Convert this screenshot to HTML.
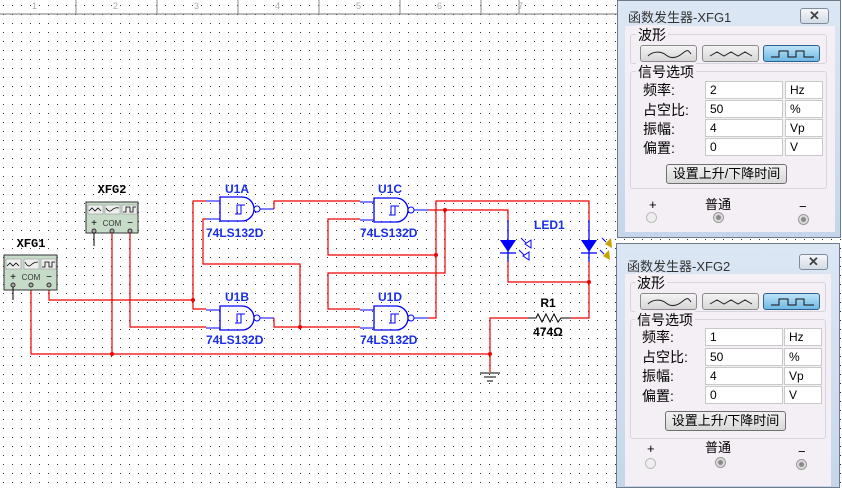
<!DOCTYPE html>
<html><head><meta charset="utf-8"><style>
html,body{margin:0;padding:0;}
body{width:842px;height:488px;position:relative;overflow:hidden;background:#fff;font-family:"Liberation Sans","Noto Sans CJK SC",sans-serif;}
#grid{position:absolute;left:0;top:0;width:842px;height:488px;background-image:radial-gradient(circle,#333 0.6px,transparent 0.7px);background-size:9px 9px;background-position:-1px 1px;}
svg.main{position:absolute;left:0;top:0;}
.dlg{position:absolute;background:linear-gradient(#dce7f4,#c6d6ea);border:1px solid #6d7b8d;box-sizing:border-box;}
.title{position:absolute;left:10px;top:6px;font-size:13px;color:#333;}
.close{position:absolute;width:29px;height:16px;border:1px solid #7e8b9c;border-radius:3px;background:linear-gradient(#f5f7fa,#d4dbe4);box-sizing:border-box;font-size:13px;font-weight:bold;text-align:center;line-height:14px;color:#444;}
.client{position:absolute;background:#f4eff4;}
.grp{position:absolute;border:1px solid #d8d4de;border-radius:3px;box-sizing:border-box;}
.glab{position:absolute;font-size:14px;background:#f4eff4;padding:0 2px;color:#000;}
.wbtn{position:absolute;height:17px;width:57px;border:1px solid #8a8a8a;border-radius:3px;box-sizing:border-box;background:linear-gradient(#f4f4f4,#d6d6d6);}
.wbtn svg{position:absolute;left:6px;top:3px;}
.wbtn.on{background:linear-gradient(#bde3f8,#6fb8e4);border-color:#2c628b;}
.lab{position:absolute;font-size:14px;color:#000;}
.inp{position:absolute;height:18px;background:#fff;border:1px solid #c9c9c9;box-sizing:border-box;font-size:12px;padding-left:4px;line-height:17px;}
.btn{position:absolute;height:20px;border:1px solid #707070;border-radius:3px;box-sizing:border-box;background:linear-gradient(#f2f2f2,#d8d8d8);font-size:13px;text-align:center;line-height:18px;}
.rad{position:absolute;width:11px;height:11px;border-radius:50%;border:1px solid #999;box-sizing:border-box;background:radial-gradient(circle,#888 2px,#ddd 3px);}
.rad.off{background:#eee;border-color:#bbb;}
.small{position:absolute;font-size:13px;}
</style></head><body>
<div id="grid"></div>
<svg class="main" width="842" height="488" viewBox="0 0 842 488">
<line x1="0" y1="14" x2="620" y2="14" stroke="#777" stroke-width="1"/>
<g stroke="#888" stroke-width="1">
<line x1="76" y1="0" x2="76" y2="14"/><line x1="157" y1="0" x2="157" y2="14"/><line x1="238" y1="0" x2="238" y2="14"/><line x1="319" y1="0" x2="319" y2="14"/><line x1="400" y1="0" x2="400" y2="14"/><line x1="481" y1="0" x2="481" y2="14"/><line x1="519" y1="0" x2="519" y2="14"/>
</g>
<g font-size="9" fill="#aaa" font-family="Liberation Sans">
<text x="32" y="9">1</text><text x="113" y="9">2</text><text x="194" y="9">3</text><text x="275" y="9">4</text><text x="356" y="9">5</text><text x="437" y="9">6</text><text x="518" y="9">7</text>
</g>

<g stroke="#e00" stroke-width="1.2" fill="none">
<polyline points="49,290 49,300 193,300"/>
<polyline points="206,201 193,201 193,309 206,309"/>
<polyline points="31,290 31,354 490,354"/>
<polyline points="112,233 112,354"/>
<polyline points="130,233 130,327 206,327"/>
<polyline points="206,219 203,219 203,264 300,264 300,327"/>
<polyline points="274,209 274,201 360,201"/>
<polyline points="274,318 274,327 360,327"/>
<polyline points="360,219 328,219 328,255 436,255"/>
<polyline points="428,210 508,210 508,220"/>
<polyline points="445,210 445,273 328,273 328,309 360,309"/>
<polyline points="428,318 436,318 436,201 589,201 589,220"/>
<polyline points="508,262 508,282 589,282"/>
<polyline points="589,262 589,318 571,318"/>
<polyline points="528,318 490,318 490,372"/>
</g>
<g fill="#e00">
<circle cx="193" cy="300" r="2"/><circle cx="112" cy="354" r="2"/><circle cx="300" cy="327" r="2"/><circle cx="436" cy="255" r="2"/><circle cx="445" cy="210" r="2"/><circle cx="589" cy="282" r="2"/><circle cx="490" cy="354" r="2"/>
</g>
<g stroke="#000" stroke-width="1"><line x1="480" y1="373" x2="500" y2="373"/><line x1="484" y1="377" x2="496" y2="377"/><line x1="487" y1="381" x2="493" y2="381"/></g>
<polyline points="528,318 536,318 538,314 542,322 546,314 550,322 554,314 558,322 561,318 571,318" stroke="#000" fill="none" stroke-width="1"/>
<text x="548" y="307" font-size="12" font-weight="bold" text-anchor="middle" font-family="Liberation Sans">R1</text>
<text x="548" y="336" font-size="12" font-weight="bold" text-anchor="middle" font-family="Liberation Sans">474Ω</text>

<defs>
<g id="gate">
<line x1="-14" y1="4" x2="0" y2="4" stroke="#00f"/>
<line x1="-14" y1="22" x2="0" y2="22" stroke="#00f"/>
<path d="M0,0 H22 A12 12 0 0 1 22 24 H0 Z" fill="none" stroke="#00f" stroke-width="1.3"/>
<circle cx="37" cy="12" r="3" fill="#fff" stroke="#00f"/>
<line x1="40" y1="12" x2="54" y2="12" stroke="#00f"/>
<polyline points="15,17 21,17 21,8 25,8" fill="none" stroke="#00f"/>
<polyline points="17,17 17,8 21,8" fill="none" stroke="#00f"/>
</g>
<g id="w1"><path d="M1,6 C6,0 10,0 14,4 S22,8 27,2" fill="none" stroke="#333"/></g>
</defs>
<use href="#gate" x="220" y="197"/>
<use href="#gate" x="220" y="306"/>
<use href="#gate" x="374" y="198"/>
<use href="#gate" x="374" y="306"/>
<g fill="#1a2ee8" font-size="12" font-weight="bold" font-family="Liberation Sans">
<text x="225" y="193">U1A</text><text x="206" y="237">74LS132D</text>
<text x="225" y="301">U1B</text><text x="206" y="344">74LS132D</text>
<text x="378" y="193">U1C</text><text x="360" y="237">74LS132D</text>
<text x="378" y="301">U1D</text><text x="360" y="344">74LS132D</text>
<text x="534" y="229">LED1</text>
</g>
<g stroke="#00f" stroke-width="1.3">
<line x1="508" y1="220" x2="508" y2="262"/><line x1="589" y1="220" x2="589" y2="262"/>
<line x1="500" y1="253" x2="516" y2="253"/><line x1="581" y1="253" x2="597" y2="253"/>
</g>
<polygon points="500,240 516,240 508,252" fill="#00f"/>
<polygon points="581,240 597,240 589,252" fill="#00f"/>
<g stroke="#00f" fill="none"><line x1="521" y1="238" x2="527" y2="244"/><polygon points="525,244 531,240 531,248" fill="#fff"/>
<line x1="519" y1="250" x2="525" y2="256"/><polygon points="523,256 529,252 529,260" fill="#fff"/>
<line x1="602" y1="238" x2="606" y2="242"/><line x1="600" y1="250" x2="604" y2="254"/></g>
<polygon points="605,244 611,238 612,248" fill="#c9a000"/>
<polygon points="603,256 609,250 610,260" fill="#c9a000"/>

<!-- XFG2 -->
<rect x="86" y="202" width="52" height="31" fill="#c7dcc8" stroke="#333"/>
<rect x="88" y="205" width="15" height="9" fill="#eee" stroke="#888" stroke-width=".5"/>
<rect x="105" y="205" width="15" height="9" fill="#eee" stroke="#888" stroke-width=".5"/>
<rect x="122" y="205" width="15" height="9" fill="#eee" stroke="#888" stroke-width=".5"/>
<g fill="none" stroke="#000" stroke-width=".8">
<polyline points="89,211 92,208 95,211 98,208 101,211"/>
<path d="M106,208 Q109,213 112,210 T119,208"/>
<polyline points="123,212 126,212 126,207 130,207 130,212 133,212 133,207 136,207"/>
</g>
<text x="112" y="193" font-size="12" font-weight="bold" text-anchor="middle" font-family="Liberation Mono">XFG2</text>
<text x="112" y="226" font-size="8" text-anchor="middle" fill="#333">COM</text>
<text x="94" y="226" font-size="10" text-anchor="middle">+</text><text x="130" y="226" font-size="10" text-anchor="middle">−</text>
<g fill="#aaa" stroke="#333"><circle cx="94" cy="231" r="2"/><circle cx="112" cy="231" r="2"/><circle cx="130" cy="231" r="2"/></g>
<line x1="94" y1="233" x2="94" y2="246" stroke="#000"/>
<!-- XFG1 -->
<rect x="4" y="255" width="53" height="35" fill="#c7dcc8" stroke="#333"/>
<rect x="6" y="259" width="15" height="10" fill="#eee" stroke="#888" stroke-width=".5"/>
<rect x="24" y="259" width="15" height="10" fill="#eee" stroke="#888" stroke-width=".5"/>
<rect x="41" y="259" width="15" height="10" fill="#eee" stroke="#888" stroke-width=".5"/>
<g fill="none" stroke="#000" stroke-width=".8">
<polyline points="7,266 10,263 13,266 16,263 19,266"/>
<path d="M25,262 Q28,268 31,265 T38,262"/>
<polyline points="42,267 45,267 45,262 49,262 49,267 52,267 52,262 55,262"/>
</g>
<text x="31" y="247" font-size="12" font-weight="bold" text-anchor="middle" font-family="Liberation Mono">XFG1</text>
<text x="31" y="280" font-size="8" text-anchor="middle" fill="#333">COM</text>
<text x="13" y="280" font-size="10" text-anchor="middle">+</text><text x="49" y="280" font-size="10" text-anchor="middle">−</text>
<g fill="#aaa" stroke="#333"><circle cx="13" cy="285" r="2"/><circle cx="31" cy="285" r="2"/><circle cx="49" cy="285" r="2"/></g>
<line x1="13" y1="287" x2="13" y2="300" stroke="#000"/>
</svg>

<!-- Dialog 1 -->
<div class="dlg" style="left:617px;top:0;width:224px;height:238px;">
<div class="title">函数发生器-XFG1</div>
<div class="close" style="left:182px;top:7px;">✕</div>
<div class="client" style="left:7px;top:25px;width:210px;height:206px;"></div>
<div class="grp" style="left:12px;top:33px;width:197px;height:30px;"></div>
<div class="glab" style="left:18px;top:24px;">波形</div>
<div class="wbtn" style="left:22px;top:44px;"><svg width="45" height="10"><path d="M1,7 C6,2 14,2 19,6 S30,9 36,4 42,3 44,5" fill="none" stroke="#222"/></svg></div>
<div class="wbtn" style="left:84px;top:44px;"><svg width="45" height="10"><polyline points="1,7 8,3 15,7 22,3 29,7 36,3 43,7" fill="none" stroke="#222"/></svg></div>
<div class="wbtn on" style="left:145px;top:44px;"><svg width="45" height="10"><polyline points="1,8 9,8 9,2 18,2 18,8 26,8 26,2 34,2 34,8 44,8" fill="none" stroke="#111"/></svg></div>
<div class="grp" style="left:12px;top:70px;width:197px;height:118px;"></div>
<div class="glab" style="left:18px;top:61px;">信号选项</div>
<div class="lab" style="left:25px;top:79px;">频率:</div>
<div class="lab" style="left:25px;top:99px;">占空比:</div>
<div class="lab" style="left:25px;top:118px;">振幅:</div>
<div class="lab" style="left:25px;top:137px;">偏置:</div>
<div class="inp" style="left:87px;top:80px;width:78px;">2</div><div class="inp" style="left:167px;top:80px;width:38px;">Hz</div>
<div class="inp" style="left:87px;top:99px;width:78px;">50</div><div class="inp" style="left:167px;top:99px;width:38px;">%</div>
<div class="inp" style="left:87px;top:118px;width:78px;">4</div><div class="inp" style="left:167px;top:118px;width:38px;">Vp</div>
<div class="inp" style="left:87px;top:137px;width:78px;">0</div><div class="inp" style="left:167px;top:137px;width:38px;">V</div>
<div class="btn" style="left:48px;top:163px;width:121px;">设置上升/下降时间</div>
<div class="small" style="left:31px;top:196px;">+</div>
<div class="small" style="left:87px;top:193px;">普通</div>
<div class="small" style="left:181px;top:198px;">−</div>
<div class="rad off" style="left:28px;top:211px;"></div>
<div class="rad" style="left:95px;top:211px;"></div>
<div class="rad" style="left:180px;top:213px;"></div>
</div>

<!-- Dialog 2 -->
<div class="dlg" style="left:616px;top:243px;width:224px;height:245px;">
<div class="title" style="top:12px;">函数发生器-XFG2</div>
<div class="close" style="left:182px;top:10px;">✕</div>
<div class="client" style="left:8px;top:30px;width:206px;height:212px;"></div>
<div class="grp" style="left:13px;top:38px;width:196px;height:30px;"></div>
<div class="glab" style="left:18px;top:29px;">波形</div>
<div class="wbtn" style="left:23px;top:49px;"><svg width="45" height="10"><path d="M1,7 C6,2 14,2 19,6 S30,9 36,4 42,3 44,5" fill="none" stroke="#222"/></svg></div>
<div class="wbtn" style="left:85px;top:49px;"><svg width="45" height="10"><polyline points="1,7 8,3 15,7 22,3 29,7 36,3 43,7" fill="none" stroke="#222"/></svg></div>
<div class="wbtn on" style="left:146px;top:49px;"><svg width="45" height="10"><polyline points="1,8 9,8 9,2 18,2 18,8 26,8 26,2 34,2 34,8 44,8" fill="none" stroke="#111"/></svg></div>
<div class="grp" style="left:13px;top:75px;width:196px;height:120px;"></div>
<div class="glab" style="left:18px;top:66px;">信号选项</div>
<div class="lab" style="left:25px;top:83px;">频率:</div>
<div class="lab" style="left:25px;top:103px;">占空比:</div>
<div class="lab" style="left:25px;top:122px;">振幅:</div>
<div class="lab" style="left:25px;top:142px;">偏置:</div>
<div class="inp" style="left:88px;top:84px;width:78px;">1</div><div class="inp" style="left:167px;top:84px;width:38px;">Hz</div>
<div class="inp" style="left:88px;top:104px;width:78px;">50</div><div class="inp" style="left:167px;top:104px;width:38px;">%</div>
<div class="inp" style="left:88px;top:123px;width:78px;">4</div><div class="inp" style="left:167px;top:123px;width:38px;">Vp</div>
<div class="inp" style="left:88px;top:142px;width:78px;">0</div><div class="inp" style="left:167px;top:142px;width:38px;">V</div>
<div class="btn" style="left:48px;top:167px;width:121px;">设置上升/下降时间</div>
<div class="small" style="left:30px;top:197px;">+</div>
<div class="small" style="left:88px;top:193px;">普通</div>
<div class="small" style="left:181px;top:200px;">−</div>
<div class="rad off" style="left:28px;top:214px;"></div>
<div class="rad" style="left:98px;top:213px;"></div>
<div class="rad" style="left:179px;top:215px;"></div>
</div>
</body></html>
